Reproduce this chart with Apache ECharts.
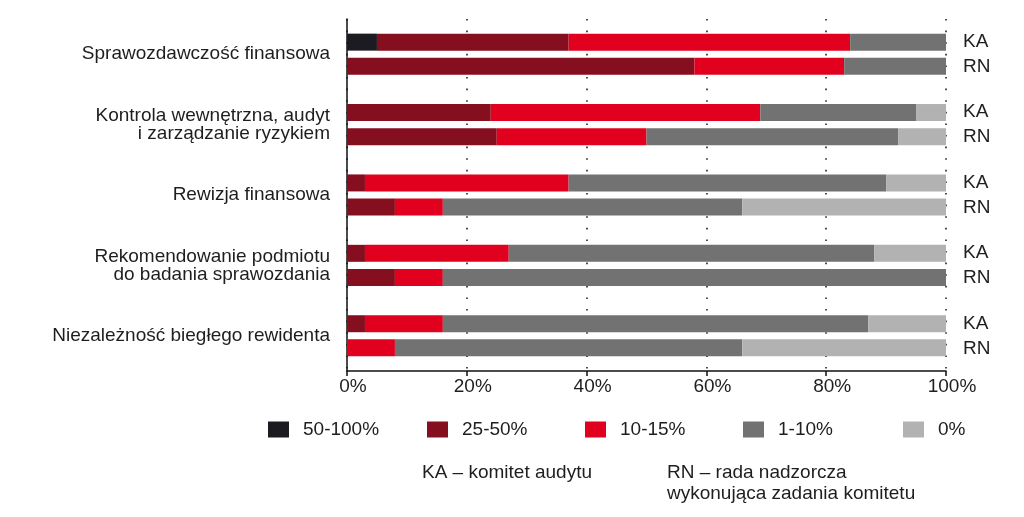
<!DOCTYPE html>
<html>
<head>
<meta charset="utf-8">
<script src="https://cdn.jsdelivr.net/npm/echarts@6/dist/echarts.min.js"></script>
<style>html,body{margin:0;padding:0;background:#fff;}#c{width:1024px;height:517px;}</style>
</head>
<body>
<div id="c"></div>
<script>
// Categories (groups), top to bottom
const groups = [
  'Sprawozdawczość finansowa',
  'Kontrola wewnętrzna, audyt\ni zarządzanie ryzykiem',
  'Rewizja finansowa',
  'Rekomendowanie podmiotu\ndo badania sprawozdania',
  'Niezależność biegłego rewidenta'
];
const sideLabels = ['KA', 'RN'];
const segments = ['50-100%', '25-50%', '10-15%', '1-10%', '0%'];
const xTicks = [0, 20, 40, 60, 80, 100];

// KA – komitet audytu: share per segment for each group
const ka_50_100 = [5, 0, 0, 0, 0];
const ka_25_50  = [32, 24, 3, 3, 3];
const ka_10_15  = [47, 45, 34, 24, 13];
const ka_1_10   = [16, 26, 53, 61, 71];
const ka_0      = [0, 5, 10, 12, 13];

// RN – rada nadzorcza wykonująca zadania komitetu
const rn_50_100 = [0, 0, 0, 0, 0];
const rn_25_50  = [58, 25, 8, 8, 0];
const rn_10_15  = [25, 25, 8, 8, 8];
const rn_1_10   = [17, 42, 50, 84, 58];
const rn_0      = [0, 8, 34, 0, 34];

const notes = ['KA – komitet audytu', 'RN – rada nadzorcza\nwykonująca zadania komitetu'];

const colors = ['#1c1b21', '#860f1f', '#e1001e', '#727272', '#b2b2b2'];
const FONT = '"Liberation Sans", Arial, Helvetica, sans-serif';
const TXT = '#1e1e1e';
const FS = 19;

const kaData = [ka_50_100, ka_25_50, ka_10_15, ka_1_10, ka_0];
const rnData = [rn_50_100, rn_25_50, rn_10_15, rn_1_10, rn_0];

const series = [];
segments.forEach((s, i) => {
  series.push({
    name: s, type: 'bar', stack: 'KA', data: kaData[i],
    barWidth: 17, barGap: '42%',
    itemStyle: { color: colors[i] }, emphasis: { disabled: true }
  });
});
segments.forEach((s, i) => {
  series.push({
    name: s, type: 'bar', stack: 'RN', data: rnData[i],
    barWidth: 17, barGap: '42%',
    itemStyle: { color: colors[i] }, emphasis: { disabled: true }
  });
});

const legendLefts = [268, 427, 585, 743, 903];
const legends = segments.map((s, i) => ({
  data: [s], left: legendLefts[i], top: 420, padding: 0,
  itemWidth: 21, itemHeight: 16, selectedMode: false,
  icon: 'rect',
  textStyle: { fontFamily: FONT, fontSize: FS, color: TXT, padding: [0, 0, 0, 9] }
}));

const chart = echarts.init(document.getElementById('c'));
chart.setOption({
  animation: false,
  backgroundColor: '#ffffff',
  textStyle: { fontFamily: FONT },
  title: [
    { text: notes[0], left: 422, top: 462, padding: 0,
      textStyle: { fontFamily: FONT, fontSize: FS, fontWeight: 'normal', color: TXT, lineHeight: 21 } },
    { text: notes[1], left: 667, top: 462, padding: 0,
      textStyle: { fontFamily: FONT, fontSize: FS, fontWeight: 'normal', color: TXT, lineHeight: 21 } }
  ],
  legend: legends,
  grid: { left: 347, right: 78, top: 19, bottom: 146, containLabel: false },
  xAxis: {
    type: 'value', min: 0, max: 100, interval: 20,
    axisLine: { show: true, lineStyle: { color: '#111', width: 1.5 } },
    axisTick: { show: true, length: 5, lineStyle: { color: '#111', width: 1.5 } },
    axisLabel: {
      formatter: v => xTicks.includes(v) ? v + '%' : '',
      fontFamily: FONT, fontSize: FS, color: TXT, margin: 6, padding: [0, 0, 0, 12]
    },
    splitLine: { show: true, lineStyle: { color: '#222', width: 1.6, type: [1.6, 10] } }
  },
  yAxis: [
    {
      type: 'category', inverse: true, data: groups,
      axisLine: { show: true, lineStyle: { color: '#111', width: 1.5 } },
      axisTick: { show: false },
      axisLabel: { fontFamily: FONT, fontSize: FS, color: TXT, margin: 17, lineHeight: 18, align: 'right' }
    },
    {
      type: 'category', inverse: true, data: groups, position: 'right',
      axisLine: { show: false }, axisTick: { show: false },
      axisLabel: {
        formatter: () => sideLabels.join('\n'),
        fontFamily: FONT, fontSize: FS, color: TXT, margin: 17, lineHeight: 25, align: 'left'
      }
    }
  ],
  series: series
});
</script>
</body>
</html>
